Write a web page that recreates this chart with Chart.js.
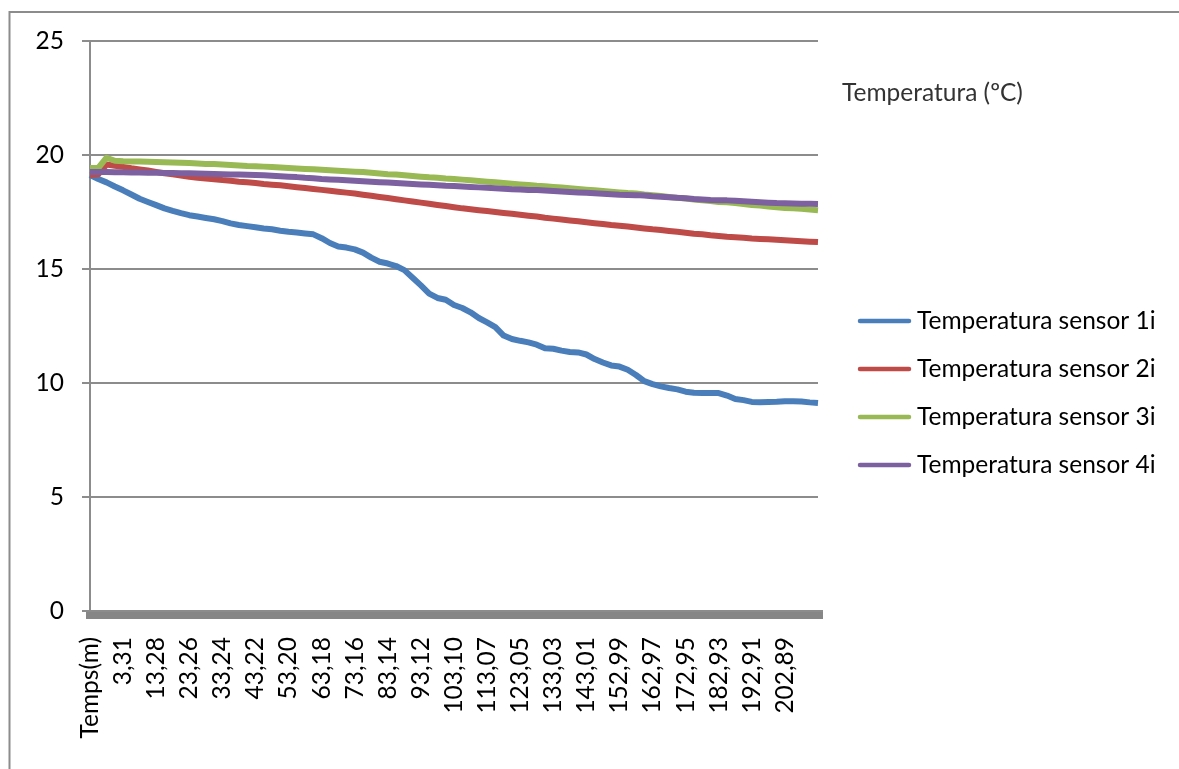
<!DOCTYPE html>
<html lang="ca">
<head>
<meta charset="utf-8">
<title>Temperatura sensors</title>
<script src="https://cdn.jsdelivr.net/npm/chart.js@4.4.1/dist/chart.umd.min.js"></script>
<style>
  html, body { margin: 0; padding: 0; background: #fff; }
  #wrap { width: 1179px; height: 769px; position: relative; }
</style>
</head>
<body>
<div id="wrap"><canvas id="grafico"></canvas></div>
<script>
// Rótulos do eixo X (um a cada 4 pontos)
const tickLabels = ['Temps(m)', '3,31', '13,28', '23,26', '33,24', '43,22', '53,20', '63,18', '73,16', '83,14',
  '93,12', '103,10', '113,07', '123,05', '133,03', '143,01', '152,99', '162,97', '172,95', '182,93', '192,91', '202,89'];
const pointsPerTick = 4;

const seriesNames = ['Temperatura sensor 1i', 'Temperatura sensor 2i', 'Temperatura sensor 3i', 'Temperatura sensor 4i'];
const seriesColors = ['#4A7EBB', '#BE4B48', '#98B954', '#7D60A0'];
const yTitle = 'Temperatura (ºC)';

// Valores
const sensor1 = [19.12, 18.95, 18.8, 18.62, 18.45, 18.27, 18.08, 17.94, 17.8, 17.66,
  17.55, 17.45, 17.36, 17.3, 17.24, 17.18, 17.1, 17.0, 16.93, 16.88,
  16.83, 16.78, 16.74, 16.68, 16.63, 16.6, 16.56, 16.52, 16.35, 16.14,
  15.99, 15.94, 15.86, 15.72, 15.5, 15.32, 15.24, 15.13, 14.95, 14.62,
  14.28, 13.92, 13.73, 13.65, 13.42, 13.29, 13.1, 12.85, 12.66, 12.45,
  12.08, 11.93, 11.85, 11.78, 11.68, 11.52, 11.5, 11.42, 11.36, 11.34,
  11.25, 11.05, 10.9, 10.77, 10.72, 10.58, 10.35, 10.08, 9.95, 9.85,
  9.78, 9.72, 9.62, 9.57, 9.56, 9.56, 9.56, 9.45, 9.3, 9.25,
  9.17, 9.16, 9.17, 9.18, 9.2, 9.2, 9.19, 9.15, 9.12];
const sensor2 = [19.12, 19.15, 19.58, 19.53, 19.48, 19.42, 19.37, 19.32, 19.26, 19.2,
  19.15, 19.1, 19.04, 19.0, 18.97, 18.94, 18.9, 18.87, 18.83, 18.8,
  18.77, 18.73, 18.7, 18.67, 18.63, 18.59, 18.55, 18.51, 18.47, 18.43,
  18.39, 18.35, 18.31, 18.26, 18.21, 18.16, 18.11, 18.06, 18.01, 17.96,
  17.91, 17.86, 17.81, 17.76, 17.71, 17.66, 17.62, 17.58, 17.54, 17.5,
  17.46, 17.42, 17.38, 17.34, 17.3, 17.25, 17.21, 17.17, 17.13, 17.09,
  17.05, 17.01, 16.97, 16.93, 16.9, 16.86, 16.82, 16.78, 16.74, 16.71,
  16.67, 16.63, 16.59, 16.55, 16.52, 16.48, 16.45, 16.41, 16.39, 16.37,
  16.34, 16.32, 16.3, 16.28, 16.26, 16.24, 16.22, 16.2, 16.18];
const sensor3 = [19.43, 19.43, 19.88, 19.75, 19.73, 19.72, 19.71, 19.7, 19.69, 19.68,
  19.67, 19.66, 19.65, 19.63, 19.61, 19.6, 19.58, 19.56, 19.54, 19.52,
  19.51, 19.49, 19.47, 19.45, 19.43, 19.41, 19.39, 19.37, 19.35, 19.33,
  19.31, 19.29, 19.27, 19.25, 19.22, 19.19, 19.16, 19.14, 19.11, 19.08,
  19.05, 19.02, 19.0, 18.97, 18.95, 18.92, 18.89, 18.86, 18.83, 18.8,
  18.77, 18.74, 18.71, 18.68, 18.65, 18.63, 18.6, 18.57, 18.54, 18.51,
  18.48, 18.45, 18.42, 18.39, 18.36, 18.33, 18.31, 18.27, 18.24, 18.2,
  18.16, 18.12, 18.09, 18.05, 18.01, 17.98, 17.94, 17.93, 17.89, 17.85,
  17.81, 17.78, 17.74, 17.71, 17.68, 17.66, 17.64, 17.61, 17.58];
const sensor4 = [19.25, 19.25, 19.25, 19.24, 19.24, 19.23, 19.23, 19.22, 19.22, 19.21,
  19.21, 19.2, 19.2, 19.19, 19.18, 19.17, 19.16, 19.15, 19.14, 19.13,
  19.12, 19.11, 19.09, 19.07, 19.05, 19.03, 19.0, 18.98, 18.95, 18.93,
  18.91, 18.89, 18.87, 18.85, 18.83, 18.81, 18.79, 18.77, 18.75, 18.73,
  18.71, 18.69, 18.67, 18.65, 18.64, 18.62, 18.6, 18.58, 18.56, 18.54,
  18.52, 18.5, 18.49, 18.47, 18.46, 18.44, 18.42, 18.4, 18.38, 18.36,
  18.34, 18.32, 18.3, 18.28, 18.26, 18.25, 18.24, 18.22, 18.19, 18.17,
  18.15, 18.12, 18.1, 18.07, 18.05, 18.03, 18.02, 18.01, 17.99, 17.97,
  17.95, 17.93, 17.91, 17.89, 17.88, 17.87, 17.86, 17.86, 17.85];

const categorias = sensor1.map((v, i) =>
  i % pointsPerTick === 0 ? (tickLabels[i / pointsPerTick] || '') : '');

const fonte = { family: 'Lato', size: 24.5 };
const cinza = '#8c8c8c';

// Moldura, título e legenda desenhados à mão
const moldura = {
  id: 'moldura',
  beforeDraw(chart) {
    const ctx = chart.ctx;
    ctx.save();
    ctx.fillStyle = '#fff';
    ctx.fillRect(0, 0, chart.width, chart.height);
    ctx.strokeStyle = cinza;
    ctx.lineWidth = 2;
    ctx.strokeRect(9.5, 12, chart.width + 20, chart.height + 20);
    ctx.restore();
  },
  afterDraw(chart) {
    const ctx = chart.ctx;
    ctx.save();
    ctx.font = `${fonte.size}px ${fonte.family}`;
    ctx.textBaseline = 'middle';
    ctx.fillStyle = '#333';
    ctx.fillText(yTitle, 842, 93);
    chart.data.datasets.forEach((ds, i) => {
      const y = 321 + i * 48;
      ctx.strokeStyle = ds.borderColor;
      ctx.lineWidth = 4.5;
      ctx.lineCap = 'round';
      ctx.beginPath();
      ctx.moveTo(860, y);
      ctx.lineTo(909, y);
      ctx.stroke();
      ctx.fillStyle = '#000';
      ctx.fillText(ds.label, 917, y);
    });
    ctx.restore();
  }
};

const series = [sensor1, sensor2, sensor3, sensor4];

new Chart(document.getElementById('grafico'), {
  type: 'line',
  data: {
    labels: categorias,
    datasets: series.map((dados, i) => ({
      label: seriesNames[i],
      data: dados,
      borderColor: seriesColors[i],
      backgroundColor: seriesColors[i],
      borderWidth: 6,
      pointRadius: 0,
      tension: 0,
      fill: false,
      borderJoinStyle: 'round',
      order: series.length - 1 - i
    }))
  },
  options: {
    responsive: true,
    maintainAspectRatio: false,
    animation: false,
    layout: { padding: { left: 0, top: 41, right: 361, bottom: 0 } },
    plugins: { legend: { display: false }, tooltip: { enabled: false } },
    scales: {
      x: {
        type: 'category',
        ticks: { autoSkip: false, minRotation: 90, maxRotation: 90, padding: 18, color: '#000', font: fonte },
        grid: { drawOnChartArea: false, tickLength: 8, lineWidth: 9, color: '#868686' },
        border: { color: cinza, width: 2 },
        afterFit: s => { s.height = 158; }
      },
      y: {
        min: 0,
        max: 25,
        ticks: { stepSize: 5, padding: 18, color: '#000', font: fonte },
        grid: { color: cinza, lineWidth: 2, tickLength: 8 },
        border: { color: cinza, width: 2 },
        afterFit: s => { s.width = 90; }
      }
    }
  },
  plugins: [moldura]
});
</script>
</body>
</html>
